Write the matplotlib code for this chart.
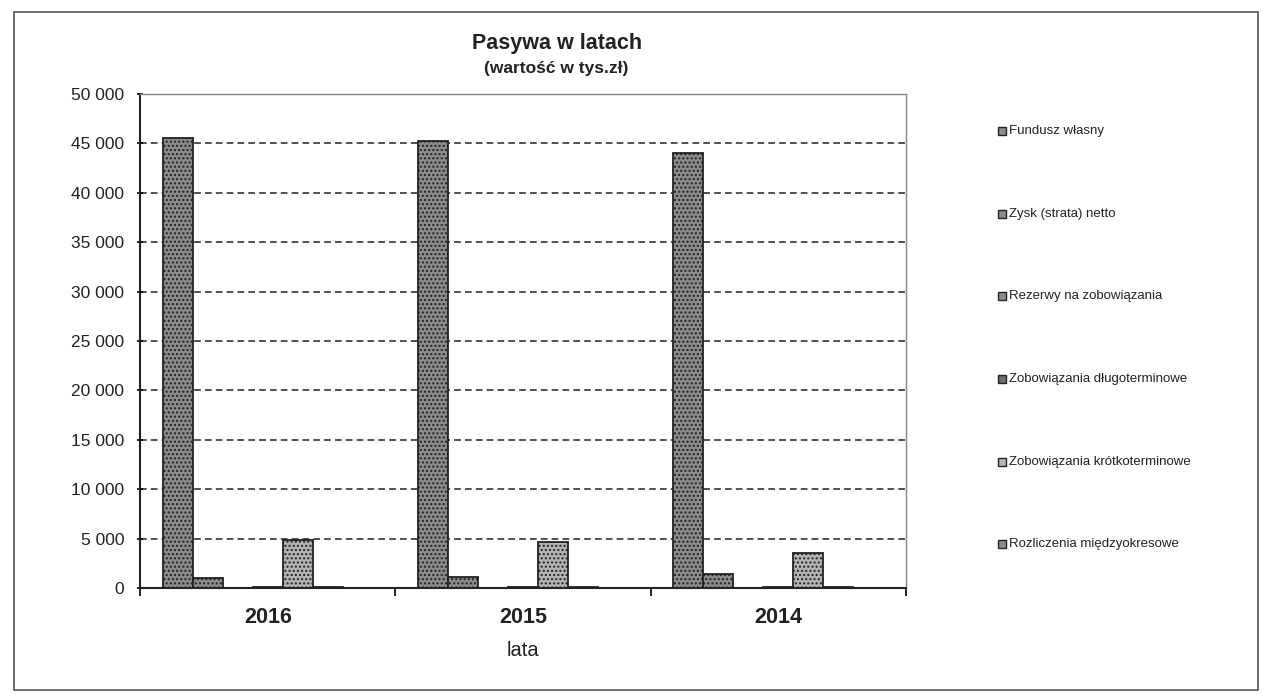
import matplotlib
matplotlib.use("Agg")
import matplotlib.pyplot as plt
import numpy as np
from matplotlib.patches import Rectangle
from matplotlib.ticker import FuncFormatter

plt.rcParams['font.family'] = ['Liberation Sans', 'DejaVu Sans']
plt.rcParams['hatch.color'] = '#555555'

years = ["2016", "2015", "2014"]
series_names = ["Fundusz własny", "Zysk (strata) netto", "Rezerwy na zobowiązania",
                "Zobowiązania długoterminowe", "Zobowiązania krótkoterminowe",
                "Rozliczenia międzyokresowe"]
fundusz = [45500, 45200, 44000]
zysk = [1000, 1100, 1400]
rezerwy = [0, 0, 0]
zob_dlugo = [150, 120, 80]
zob_krotko = [4850, 4700, 3550]
rozliczenia = [120, 100, 80]
values = [fundusz, zysk, rezerwy, zob_dlugo, zob_krotko, rozliczenia]
colors = ["#8c8c8c", "#8c8c8c", "#8c8c8c", "#6e6e6e", "#b4b4b4", "#8c8c8c"]

fig = plt.figure(figsize=(12.73, 7.0), dpi=100)
ax = fig.add_axes([0.110, 0.16, 0.6017, 0.7057])

n_slots = 7
width = 1.0 / (n_slots + 1.5)
x = np.arange(len(years))
for i, (vals, c) in enumerate(zip(values, colors)):
    offs = (i - (n_slots - 1) / 2) * width
    ax.bar(x + offs, vals, width, color=c, edgecolor="#222222", linewidth=1.3,
           hatch="....", zorder=3)

ax.set_xlim(-0.5, len(years) - 0.5)
ax.set_ylim(0, 50000)
ax.set_yticks(np.arange(0, 50001, 5000))
ax.yaxis.set_major_formatter(FuncFormatter(lambda v, p: f"{int(v):,}".replace(",", " ")))
ax.yaxis.grid(True, linestyle=(0, (4, 2.5)), color="#333333", linewidth=1.2, zorder=1)
ax.tick_params(axis='y', labelsize=12.5, length=5, width=1.2, direction='inout', pad=9,
               labelcolor="#222222")
ax.set_xticks(np.arange(len(years) + 1) - 0.5, minor=True)
ax.set_xticks(x)
ax.set_xticklabels(years, fontsize=15.5, fontweight='bold', color="#222222")
ax.tick_params(axis='x', which='major', length=0, pad=14)
ax.tick_params(axis='x', which='minor', length=6, width=1.2, direction='out')
ax.set_xlabel("lata", fontsize=14.5, labelpad=9, color="#222222")
for s in ["left", "bottom"]:
    ax.spines[s].set_linewidth(1.5)
    ax.spines[s].set_color("#222222")
for s in ["top", "right"]:
    ax.spines[s].set_linewidth(1.0)
    ax.spines[s].set_color("#888888")

fig.text(557 / 1273, 1 - 43 / 700, "Pasywa w latach", ha='center', va='center',
         fontsize=15.5, fontweight='bold', color="#222222")
fig.text(556 / 1273, 1 - 68 / 700, "(wartość w tys.zł)", ha='center', va='center',
         fontsize=12.5, fontweight='bold', color="#222222")

# legend entries
leg_y = [131, 214, 296, 379, 462, 544]
for name, c, yy in zip(series_names, colors, leg_y):
    yf = 1 - yy / 700
    fig.patches.append(Rectangle((998 / 1273, yf - 4 / 700), 8 / 1273, 8 / 700,
                                 transform=fig.transFigure, facecolor=c,
                                 edgecolor="#222222", linewidth=1.0))
    fig.text(1009 / 1273, yf, name, ha='left', va='center', fontsize=9.5, color="#222222")

fig.patches.append(Rectangle((14 / 1273, 10 / 700), 1244 / 1273, 678 / 700,
                             transform=fig.transFigure, fill=False,
                             edgecolor="#555555", linewidth=1.2))

fig.savefig("out.png", dpi=100, facecolor="white")
